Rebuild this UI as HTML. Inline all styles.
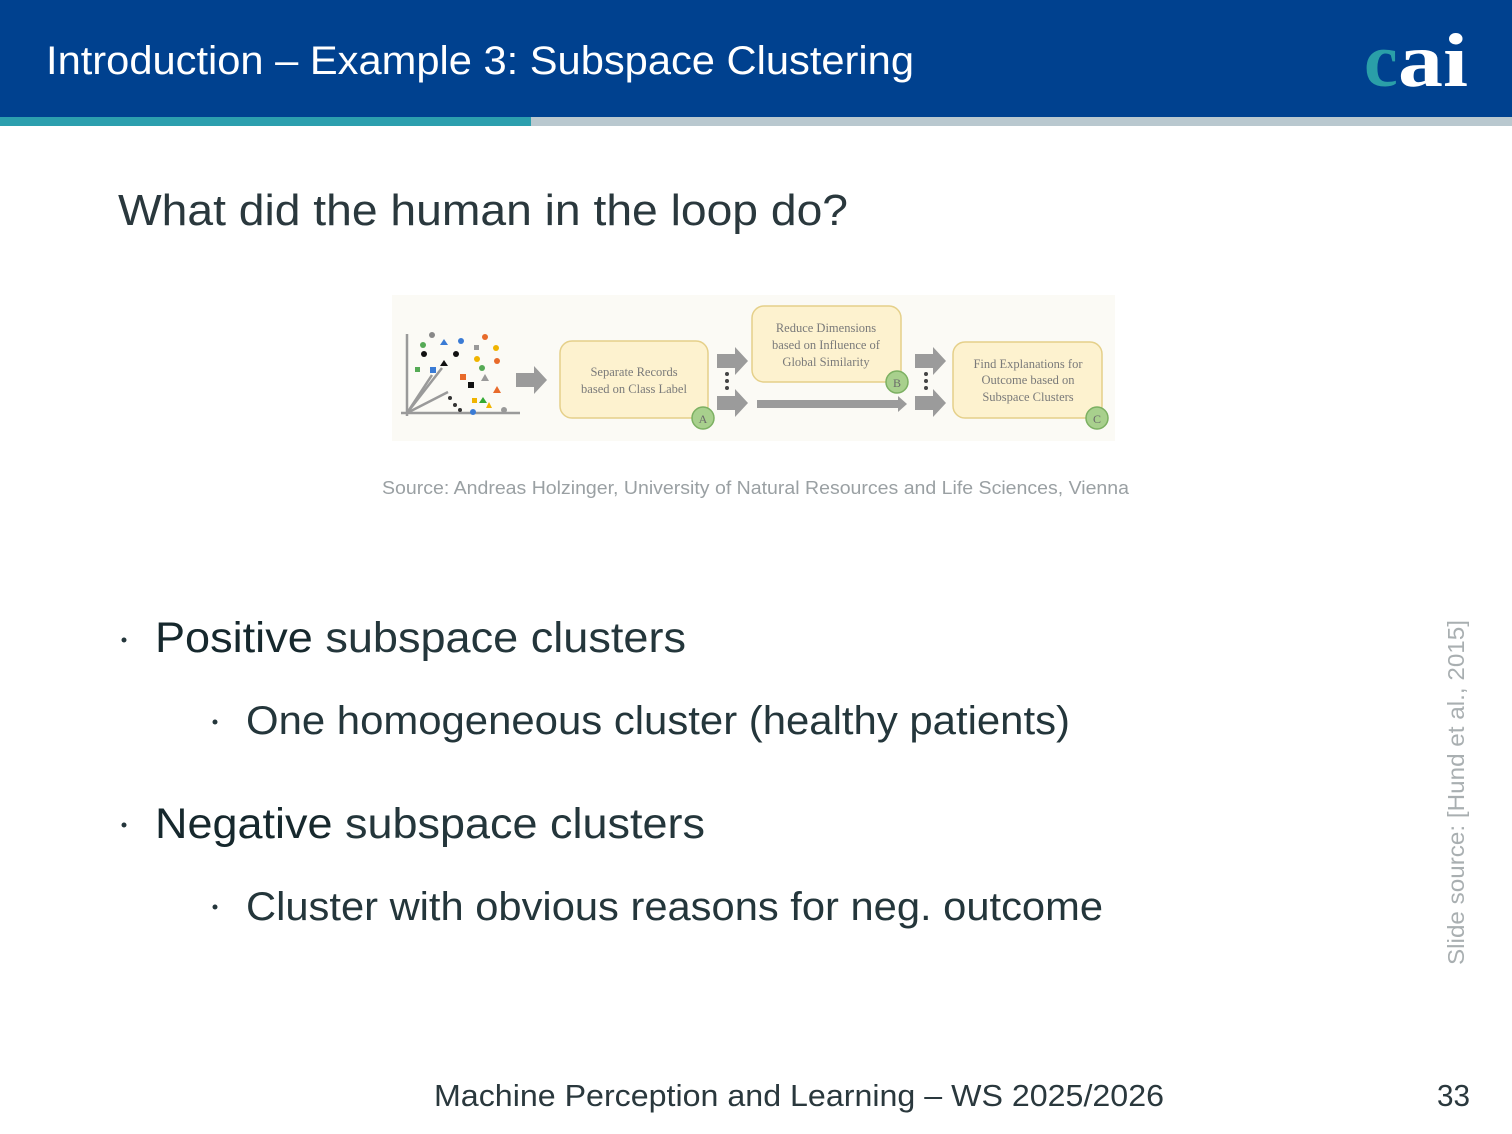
<!DOCTYPE html>
<html><head><meta charset="utf-8"><style>
html,body{margin:0;padding:0;background:#fff;}
svg{display:block}
</style></head><body>
<svg width="1512" height="1134" viewBox="0 0 1512 1134" xmlns="http://www.w3.org/2000/svg">
<rect x="0" y="0" width="1512" height="117" fill="#00418f"/>
<rect x="0" y="117" width="531" height="9" fill="#2c9fae"/>
<rect x="531" y="117" width="981" height="9" fill="#b9c8cf"/>
<text x="46" y="74" font-family="Liberation Sans, sans-serif" font-size="40" fill="#fff" textLength="868" lengthAdjust="spacingAndGlyphs">Introduction – Example 3: Subspace Clustering</text>
<text x="1364" y="86" font-family="Liberation Serif, serif" font-size="76" font-weight="bold" fill="#2a9fa8">c</text>
<text x="1398" y="86" font-family="Liberation Serif, serif" font-size="76" font-weight="bold" fill="#fff" textLength="70" lengthAdjust="spacingAndGlyphs">ai</text>

<text x="118" y="225" font-family="Liberation Sans, sans-serif" font-size="44" fill="#2a383d" textLength="730" lengthAdjust="spacingAndGlyphs">What did the human in the loop do?</text>

<!-- diagram -->
<rect x="392" y="295" width="723" height="146" fill="#fbfaf5"/>
<g stroke="#9a9a9a" stroke-width="2.5" fill="none">
<line x1="407" y1="416" x2="407" y2="334"/><line x1="401" y1="413" x2="520" y2="413"/>
<line x1="407" y1="413" x2="432" y2="375"/><line x1="407" y1="413" x2="442" y2="368"/><line x1="407" y1="413" x2="448" y2="392"/>
</g>
<g>
<circle cx="432" cy="335" r="3" fill="#888"/><circle cx="423" cy="345" r="3" fill="#5a5"/><circle cx="424" cy="354" r="3" fill="#111"/>
<rect x="415" y="367" width="5" height="5" fill="#5a5"/><rect x="430" y="367" width="6" height="6" fill="#3a7bd5"/>
<circle cx="485" cy="337" r="3" fill="#e86a2a"/><circle cx="461" cy="341" r="3" fill="#3a7bd5"/><polygon points="444,339 448,345 440,345" fill="#3a7bd5"/>
<rect x="474" y="345" width="5" height="5" fill="#999"/><circle cx="496" cy="348" r="3" fill="#f0b400"/><circle cx="456" cy="354" r="3" fill="#111"/>
<circle cx="477" cy="359" r="3" fill="#f0b400"/><circle cx="497" cy="361" r="3" fill="#e86a2a"/><polygon points="444,360 448,366 440,366" fill="#111"/>
<circle cx="482" cy="368" r="3" fill="#5a5"/><rect x="460" y="374" width="6" height="6" fill="#e86a2a"/><polygon points="485,374 489,381 481,381" fill="#999"/>
<rect x="468" y="382" width="6" height="6" fill="#111"/><polygon points="497,386 501,393 493,393" fill="#e86a2a"/>
<circle cx="450" cy="398" r="2" fill="#333"/><circle cx="455" cy="405" r="2" fill="#333"/><circle cx="460" cy="410" r="2" fill="#333"/>
<rect x="472" y="398" width="5" height="5" fill="#f0b400"/><polygon points="483,397 487,403 479,403" fill="#3a3"/><polygon points="489,402 492,408 486,408" fill="#f0b400"/>
<circle cx="473" cy="412" r="3" fill="#3a7bd5"/><circle cx="504" cy="410" r="3" fill="#999"/>
</g>
<g fill="#9b9b9b">
<polygon points="516,373 534,373 534,366 547,380 534,394 534,387 516,387"/>
<polygon points="717,354 735,354 735,347 748,361 735,375 735,368 717,368"/>
<polygon points="717,396 735,396 735,389 748,403 735,417 735,410 717,410"/>
<polygon points="757,400 898,400 898,396 907,404 898,412 898,408 757,408"/>
<polygon points="915,354 933,354 933,347 946,361 933,375 933,368 915,368"/>
<polygon points="915,396 933,396 933,389 946,403 933,417 933,410 915,410"/>
</g>
<g fill="#444"><circle cx="727" cy="374" r="2"/><circle cx="727" cy="381" r="2"/><circle cx="727" cy="388" r="2"/>
<circle cx="926" cy="374" r="2"/><circle cx="926" cy="381" r="2"/><circle cx="926" cy="388" r="2"/></g>
<g fill="#fdf2cf" stroke="#e5d08a" stroke-width="1.5">
<rect x="560" y="341" width="148" height="77" rx="12"/>
<rect x="752" y="306" width="149" height="76" rx="12"/>
<rect x="953" y="342" width="149" height="76" rx="12"/>
</g>
<g font-family="Liberation Serif, serif" font-size="12.5" fill="#7a7a7a" text-anchor="middle">
<text x="634" y="376">Separate Records</text><text x="634" y="393">based on Class Label</text>
<text x="826" y="332">Reduce Dimensions</text><text x="826" y="349">based on Influence of</text><text x="826" y="366">Global Similarity</text>
<text x="1028" y="368">Find Explanations for</text><text x="1028" y="384">Outcome based on</text><text x="1028" y="401">Subspace Clusters</text>
</g>
<g fill="#a8d08d" stroke="#7cb062" stroke-width="1.5">
<circle cx="703" cy="418" r="11"/><circle cx="897" cy="382" r="11"/><circle cx="1097" cy="418" r="11"/>
</g>
<g font-family="Liberation Serif, serif" font-size="12" fill="#6a6a6a" text-anchor="middle">
<text x="703" y="423">A</text><text x="897" y="387">B</text><text x="1097" y="423">C</text>
</g>

<text x="382" y="494" font-family="Liberation Sans, sans-serif" font-size="18" fill="#9aa0a3" textLength="747" lengthAdjust="spacingAndGlyphs">Source: Andreas Holzinger, University of Natural Resources and Life Sciences, Vienna</text>

<g font-family="Liberation Sans, sans-serif" fill="#24363b">
<circle cx="124" cy="640" r="2.5"/>
<text x="155" y="652" font-size="43" textLength="531" lengthAdjust="spacingAndGlyphs"><tspan fill="#16282d">Positive</tspan> subspace clusters</text>
<circle cx="215" cy="722" r="2.5"/>
<text x="246" y="734" font-size="40" textLength="824" lengthAdjust="spacingAndGlyphs">One homogeneous cluster (healthy patients)</text>
<circle cx="124" cy="825" r="2.5"/>
<text x="155" y="838" font-size="43" textLength="550" lengthAdjust="spacingAndGlyphs"><tspan fill="#16282d">Negative</tspan> subspace clusters</text>
<circle cx="215" cy="907" r="2.5"/>
<text x="246" y="920" font-size="40" textLength="857" lengthAdjust="spacingAndGlyphs">Cluster with obvious reasons for neg. outcome</text>
</g>

<text transform="translate(1464,965) rotate(-90)" font-family="Liberation Sans, sans-serif" font-size="23" fill="#a9afb1" textLength="345" lengthAdjust="spacingAndGlyphs">Slide source: [Hund et al., 2015]</text>

<text x="434" y="1106" font-family="Liberation Sans, sans-serif" font-size="31" fill="#2a383d" textLength="730" lengthAdjust="spacingAndGlyphs">Machine Perception and Learning – WS 2025/2026</text>
<text x="1437" y="1106" font-family="Liberation Sans, sans-serif" font-size="31" fill="#2a383d" textLength="33" lengthAdjust="spacingAndGlyphs">33</text>
</svg>
</body></html>
